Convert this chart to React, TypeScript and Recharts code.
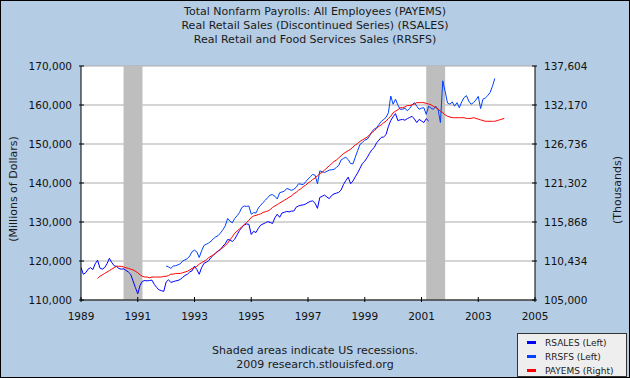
import React from 'react';
import { LineChart, Line, XAxis, YAxis, CartesianGrid, ReferenceArea } from 'recharts';

const FONT = '"DejaVu Sans", Verdana, sans-serif';

const titleLines = [
  'Total Nonfarm Payrolls: All Employees (PAYEMS)',
  'Real Retail Sales (Discontinued Series) (RSALES)',
  'Real Retail and Food Services Sales (RRSFS)',
];
const footerLines = ['Shaded areas indicate US recessions.', '2009 research.stlouisfed.org'];
const leftAxisLabel = '(Millions of Dollars)';
const rightAxisLabel = '(Thousands)';

const xTickLabels = ['1989', '1991', '1993', '1995', '1997', '1999', '2001', '2003', '2005'];
const leftTicks = [110000, 120000, 130000, 140000, 150000, 160000, 170000];
const rightTicks = [105000, 110434, 115868, 121302, 126736, 132170, 137604];

const recessionStarts = ['1990-07', '2001-03'];
const recessionEnds = ['1991-03', '2001-11'];

const seriesNames = ['RSALES (Left)', 'RRSFS (Left)', 'PAYEMS (Right)'];
const seriesColors = ['#0000FF', '#0040FF', '#FF0000'];

// monthly values, RSALES from 1989-01 (millions of dollars)
const rsalesStart = '1989-01';
const rsales = [
  118300, 116600, 117000, 117900, 118300, 117800, 119300, 120200, 118200, 117900, 118300, 119300,
  120700, 119600, 118800, 118600, 118100, 117900, 118000, 117600, 117200, 116600, 114900, 113200,
  111600, 113800, 114800, 115000, 114900, 115000, 115100, 114000, 113200, 112600, 112400, 112200,
  114600, 115200, 114500, 114700, 114900, 115000, 115300, 115800, 116300, 116600, 117200, 117500,
  118700, 117800, 116600, 118300, 119400, 119700, 120100, 120900, 121500, 122100, 122600, 122900,
  123800, 124400, 125500, 125400, 125000, 125600, 126700, 127800, 128600, 129200, 129500, 129400,
  126800, 127600, 127300, 128400, 129200, 129500, 129800, 130100, 129900, 129600, 131100, 132000,
  131200, 132300, 132500, 132700, 132600, 132800, 132800, 133800, 134100, 134300, 134400, 134600,
  135000, 135300, 135400, 134800, 133500, 136300, 136600, 136900, 136400, 136000, 136800, 137200,
  137400, 137600, 138200, 139600, 140600, 141500, 139800, 140500, 141600, 142600, 143800, 145000,
  145600, 146500, 147600, 148500, 149100, 150300, 151000, 151700, 151800, 152400, 154500, 156000,
  157000, 157800, 156000, 156200, 156300, 156100, 156500, 156800, 157100, 156400, 155500, 156300,
  155900, 155500, 156500, 155900,
];

// RRSFS from 1992-01 (millions of dollars)
const rrsfsStart = '1992-01';
const rrsfs = [
  118700, 118500, 118100, 118700, 118800, 119000, 119300, 120000, 120300, 120600, 121300, 122400,
  122800, 122300, 120900, 122600, 124000, 124300, 124600, 125100, 125700, 126200, 126500, 127200,
  128000, 129000, 130900, 130200, 129800, 130900, 131600, 132400, 133700, 134100, 134000, 134100,
  132000, 132400, 132300, 133600, 134300, 135000, 135600, 136300, 136900, 137000, 136600, 135900,
  137500, 137700, 137900, 138600, 138400, 138100, 138400, 138900, 139800, 139700, 139600, 140300,
  141000, 141600, 142200, 142000, 139800, 143100, 142900, 142700, 143000, 143300, 143400, 143500,
  144000, 144500, 145900, 146300, 146600, 146000, 145000, 144900, 146600, 148300, 149900, 150400,
  151000, 151200, 152000, 153200, 153800, 154200, 155000, 155800, 156300, 156800, 158000, 162300,
  160200, 161500, 160000, 158900, 158900, 159200, 158500, 159100, 160000, 160600, 159700, 158900,
  159200, 159300, 157600, 159700, 159200, 158900, 159700, 158900, 155500, 166200, 163500, 160500,
  160200, 160800, 159700, 160600, 159300, 160800, 161900, 162400, 161000, 160200, 160600, 161300,
  162200, 159100, 161500, 161800, 162400, 163200, 164800, 166800,
];

// PAYEMS from 1989-08 (thousands of persons)
const payemsStart = '1989-08';
const payems = [
  108000, 108300, 108500, 108700, 108900,
  109100, 109300, 109500, 109700, 109700, 109700, 109600, 109500, 109400, 109300, 109200, 109000,
  108800, 108500, 108300, 108200, 108200, 108100, 108200, 108200, 108200, 108200, 108200, 108300,
  108300, 108400, 108600, 108600, 108700, 108700, 108700, 108800, 108900, 109000, 109200, 109400,
  109500, 109700, 110000, 110200, 110400, 110600, 110900, 111100, 111300, 111500, 111800, 112100,
  112300, 112600, 112900, 113400, 113800, 114300, 114600, 114900, 115200, 115500, 115800, 116100,
  116500, 116700, 116800, 116900, 117000, 117200, 117300, 117400, 117600, 117900, 118100, 118300,
  118500, 118700, 118900, 119100, 119300, 119500, 119800, 120000, 120300, 120500, 120800, 121000,
  121300, 121500, 121800, 122000, 122300, 122600, 122800, 123100, 123400, 123700, 124000, 124300,
  124500, 124800, 125100, 125400, 125600, 125800, 126000, 126300, 126600, 126800, 127100, 127300,
  127500, 127700, 128000, 128300, 128600, 128900, 129200, 129400, 129700, 129900, 130300, 130600,
  131100, 131300, 131500, 131800, 131800, 131900, 132100, 132100, 132200, 132300, 132500, 132500,
  132500, 132500, 132400, 132300, 132200, 132000, 131800, 131600, 131300, 131100, 130800, 130600,
  130500, 130400, 130400, 130400, 130400, 130400, 130400, 130300, 130300, 130300, 130400, 130300,
  130200, 130100, 130000, 129900, 129900, 129900, 129900, 129900, 130000, 130100, 130200, 130300,
];

const baseYear = Number(xTickLabels[0]);
const toIndex = (ym: string) => {
  const [y, m] = ym.split('-').map(Number);
  return (y - baseYear) * 12 + (m - 1);
};

const seriesList = [
  { key: 'rsales', start: rsalesStart, values: rsales, axis: 'left' },
  { key: 'rrsfs', start: rrsfsStart, values: rrsfs, axis: 'left' },
  { key: 'payems', start: payemsStart, values: payems, axis: 'right' },
];

const lastIndex = Math.max(...seriesList.map((s) => toIndex(s.start) + s.values.length - 1));
const data: any[] = [];
for (let t = 0; t <= lastIndex; t++) {
  const row: any = { t };
  seriesList.forEach((s) => {
    const i = t - toIndex(s.start);
    if (i >= 0 && i < s.values.length) row[s.key] = s.values[i];
  });
  data.push(row);
}

const xTicks = xTickLabels.map((l) => toIndex(l + '-01'));
const fmt = (n: number) => n.toLocaleString('en-US');

const XTick = (props: any) => {
  const { x, y, payload } = props;
  const idx = xTicks.indexOf(payload.value);
  return (
    <g>
      <line x1={x} x2={x} y1={y} y2={y - 5} stroke="#000" strokeWidth={1} />
      <text x={x} y={y + 18} textAnchor="middle" fontFamily={FONT} fontSize={10.5} fill="#111">
        {xTickLabels[idx]}
      </text>
    </g>
  );
};

const LeftTick = (props: any) => {
  const { x, y, payload } = props;
  return (
    <g>
      <line x1={x} x2={x + 5} y1={y} y2={y} stroke="#000" strokeWidth={1} />
      <text x={x - 7} y={y} dy="0.36em" textAnchor="end" fontFamily={FONT} fontSize={10.5} fill="#111">
        {fmt(payload.value)}
      </text>
    </g>
  );
};

const RightTick = (props: any) => {
  const { x, y, payload } = props;
  return (
    <g>
      <line x1={x - 5} x2={x} y1={y} y2={y} stroke="#000" strokeWidth={1} />
      <text x={x + 7} y={y} dy="0.36em" textAnchor="start" fontFamily={FONT} fontSize={10.5} fill="#111">
        {fmt(payload.value)}
      </text>
    </g>
  );
};

export default function App() {
  return (
    <div
      style={{
        position: 'absolute',
        left: 0,
        top: 0,
        width: 630,
        height: 378,
        background: '#B4CCE4',
        fontFamily: FONT,
        overflow: 'hidden',
      }}
    >
      <div
        style={{
          position: 'absolute',
          top: 5,
          left: 0,
          width: 630,
          textAlign: 'center',
          fontSize: 11,
          lineHeight: '14px',
          color: '#1a1a1a',
        }}
      >
        {titleLines.map((t) => (
          <div key={t}>{t}</div>
        ))}
      </div>

      <LineChart width={630} height={378} data={data} margin={{ top: 66, right: 0, bottom: 48, left: 0 }}>
        <CartesianGrid yAxisId="left" vertical={false} stroke="#ABABAB" fill="#FFFFFF" />
        <XAxis
          dataKey="t"
          type="number"
          domain={[xTicks[0], xTicks[xTicks.length - 1]]}
          ticks={xTicks}
          interval={0}
          height={30}
          tickSize={0}
          tickLine={false}
          axisLine={{ stroke: '#000' }}
          tick={(p: any) => <XTick {...p} />}
          allowDataOverflow
        />
        <YAxis
          yAxisId="left"
          orientation="left"
          width={81}
          domain={[leftTicks[0], leftTicks[leftTicks.length - 1]]}
          ticks={leftTicks}
          interval={0}
          tickSize={0}
          tickLine={false}
          axisLine={{ stroke: '#000' }}
          tick={(p: any) => <LeftTick {...p} />}
          allowDataOverflow
        />
        <YAxis
          yAxisId="right"
          orientation="right"
          width={95}
          domain={[rightTicks[0], rightTicks[rightTicks.length - 1]]}
          ticks={rightTicks}
          interval={0}
          tickSize={0}
          tickLine={false}
          axisLine={{ stroke: '#000' }}
          tick={(p: any) => <RightTick {...p} />}
          allowDataOverflow
        />
        {recessionStarts.map((s, i) => (
          <ReferenceArea
            key={s}
            yAxisId="left"
            x1={toIndex(s)}
            x2={toIndex(recessionEnds[i])}
            fill="#BEBEBE"
            fillOpacity={1}
            stroke="none"
          />
        ))}
        {seriesList.map((s, i) => (
          <Line
            key={s.key}
            yAxisId={s.axis}
            dataKey={s.key}
            type="linear"
            stroke={seriesColors[i]}
            strokeWidth={1}
            dot={false}
            activeDot={false}
            isAnimationActive={false}
            connectNulls={false}
          />
        ))}
      </LineChart>

      <div
        style={{
          position: 'absolute',
          left: 12.5,
          top: 189,
          transform: 'translate(-50%, -50%) rotate(-90deg)',
          whiteSpace: 'nowrap',
          fontSize: 11,
          lineHeight: 1,
          color: '#1a1a1a',
        }}
      >
        {leftAxisLabel}
      </div>
      <div
        style={{
          position: 'absolute',
          left: 617,
          top: 190,
          transform: 'translate(-50%, -50%) rotate(-90deg)',
          whiteSpace: 'nowrap',
          fontSize: 11,
          lineHeight: 1,
          color: '#1a1a1a',
        }}
      >
        {rightAxisLabel}
      </div>

      <div
        style={{
          position: 'absolute',
          top: 344,
          left: 0,
          width: 630,
          textAlign: 'center',
          fontSize: 11,
          lineHeight: '14px',
          color: '#1a1a1a',
        }}
      >
        {footerLines.map((t) => (
          <div key={t}>{t}</div>
        ))}
      </div>

      <div
        style={{
          position: 'absolute',
          left: 517,
          top: 333,
          width: 110,
          height: 44,
          boxSizing: 'border-box',
          border: '1px solid #333',
          background: '#EEEEEE',
        }}
      >
        {seriesNames.map((n, i) => (
          <div key={n} style={{ position: 'absolute', left: 0, top: 2 + i * 14, height: 14, width: 108 }}>
            <div
              style={{
                position: 'absolute',
                left: 9,
                top: 5,
                width: 9,
                height: 3,
                background: seriesColors[i],
              }}
            />
            <div
              style={{
                position: 'absolute',
                left: 27,
                top: 0,
                fontSize: 9,
                lineHeight: '14px',
                color: '#222',
                whiteSpace: 'nowrap',
              }}
            >
              {n}
            </div>
          </div>
        ))}
      </div>

      <div
        style={{
          position: 'absolute',
          left: 0,
          top: 0,
          width: 630,
          height: 378,
          boxSizing: 'border-box',
          border: '1px solid #000',
          pointerEvents: 'none',
        }}
      />
    </div>
  );
}
